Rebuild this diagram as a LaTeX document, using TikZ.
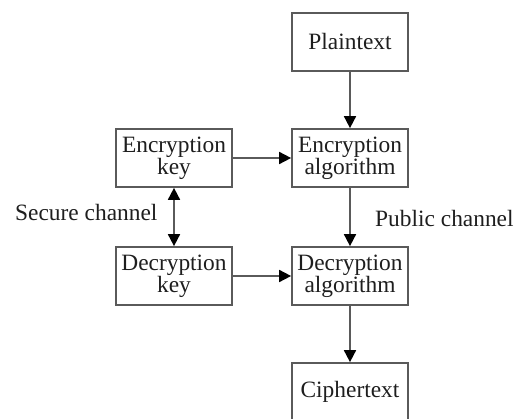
\documentclass[tikz,border=0pt]{standalone}
\usepackage{fontspec}
\setmainfont{Liberation Serif}
\usetikzlibrary{arrows.meta}
\definecolor{linec}{HTML}{5A5A5A}
\definecolor{textc}{HTML}{1E1E1E}
\begin{document}
\begin{tikzpicture}[x=1pt,y=-1pt,
  box/.style={draw=linec,line width=1.7pt,minimum width=116pt,minimum height=58pt,
    inner xsep=0pt,inner ysep=0pt,align=center,text=textc,
    font=\fontsize{23.4}{18.5}\selectfont},
  lbl/.style={text=textc,inner sep=0pt,font=\fontsize{23.4}{18.5}\selectfont},
  tip/.style={Triangle[length=12pt,width=12pt,color=black]},
  arr/.style={draw=linec,line width=1.7pt,-{Triangle[length=12pt,width=12pt,color=black]}},
  darr/.style={draw=linec,line width=1.7pt,{Triangle[length=12pt,width=12pt,color=black]}-{Triangle[length=12pt,width=12pt,color=black]}}]
\useasboundingbox (0,0) rectangle (519,419);
\node[box] (plain) at (350,42) {Plaintext};
\node[box] (encalg) at (350,158) {Encryption\\algorithm};
\node[box] (enckey) at (174,158) {Encryption\\key};
\node[box] (deckey) at (174,276) {Decryption\\key};
\node[box] (decalg) at (350,276) {Decryption\\algorithm};
\node[box] (ciph) at (350,392) {Ciphertext};
\node[lbl,anchor=west] (sec) at (15,212) {Secure channel};
\node[lbl,anchor=west] (pub) at (375,218) {Public channel};
\draw[arr] (plain) -- (encalg);
\draw[arr] (enckey) -- (encalg);
\draw[arr] (encalg) -- (decalg);
\draw[arr] (deckey) -- (decalg);
\draw[arr] (decalg) -- (ciph);
\draw[darr] (enckey) -- (deckey);
\end{tikzpicture}
\end{document}
